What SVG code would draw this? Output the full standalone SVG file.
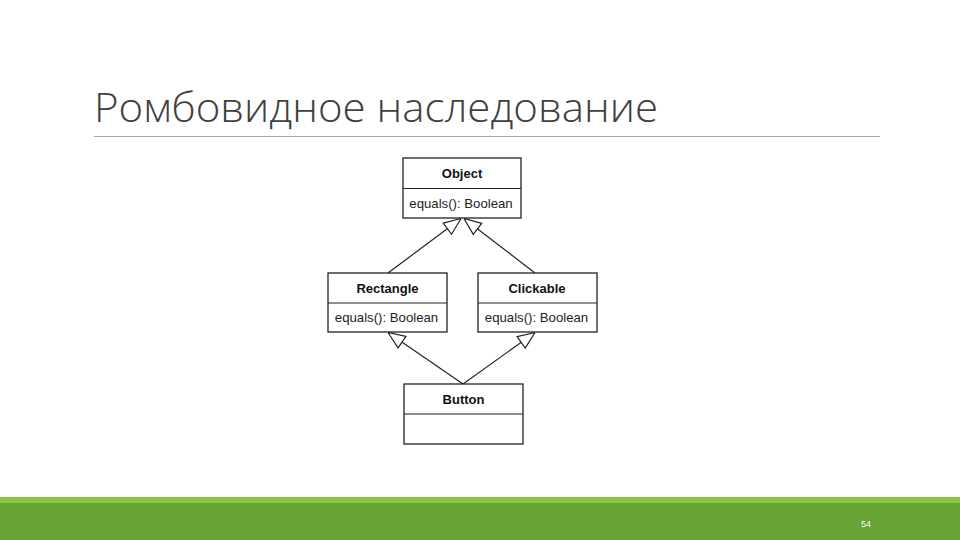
<svg xmlns="http://www.w3.org/2000/svg" width="960" height="540" viewBox="0 0 960 540">
<style>
.box{fill:#fff;stroke:#222;stroke-width:1.3}
.div{stroke:#222;stroke-width:1.2}
.name{font-family:"Liberation Sans",Arial,sans-serif;font-size:13px;font-weight:bold;fill:#111;text-anchor:middle}
.attr{font-family:"Liberation Sans",Arial,sans-serif;font-size:13.2px;fill:#222;text-anchor:middle}
.edge{stroke:#222;stroke-width:1.2;fill:none;marker-end:url(#tri)}
</style>
<defs>
<marker id="tri" viewBox="0 0 18 16" refX="18" refY="8" markerWidth="18" markerHeight="16" markerUnits="userSpaceOnUse" orient="auto">
<path d="M18,8 L1,1 L1,15 Z" fill="#fff" stroke="#222" stroke-width="1.2"/>
</marker>
</defs>
<rect width="960" height="540" fill="#fff"/>
<text x="94" y="122" font-family="'Open Sans','Noto Sans',sans-serif" font-weight="300" font-size="41" fill="#404040" textLength="564" lengthAdjust="spacingAndGlyphs">Ромбовидное наследование</text>
<line x1="94" y1="136.5" x2="880" y2="136.5" stroke="#a6a6a6" stroke-width="1"/>
<g id="connectors">
<line class="edge" x1="388" y1="273" x2="461" y2="218.5"/>
<line class="edge" x1="535" y1="273" x2="464" y2="218.5"/>
<line class="edge" x1="463" y1="384" x2="388" y2="332.5"/>
<line class="edge" x1="463" y1="384" x2="535" y2="332.5"/>
</g>
<g id="object">
<rect class="box" x="403" y="158" width="118" height="60"/>
<line class="div" x1="403" y1="188.5" x2="521" y2="188.5"/>
<text class="name" x="462" y="178">Object</text>
<text class="attr" x="461" y="207.5">equals(): Boolean</text>
</g>
<g id="rectangle">
<rect class="box" x="328" y="273" width="119" height="59"/>
<line class="div" x1="328" y1="303" x2="447" y2="303"/>
<text class="name" x="387.5" y="292.5">Rectangle</text>
<text class="attr" x="386.5" y="321.5">equals(): Boolean</text>
</g>
<g id="clickable">
<rect class="box" x="478" y="273" width="119" height="59"/>
<line class="div" x1="478" y1="303" x2="597" y2="303"/>
<text class="name" x="537" y="292.5">Clickable</text>
<text class="attr" x="536.5" y="321.5">equals(): Boolean</text>
</g>
<g id="button">
<rect class="box" x="404" y="384" width="119" height="60"/>
<line class="div" x1="404" y1="414" x2="523" y2="414"/>
<text class="name" x="463.5" y="404">Button</text>
</g>
<rect x="0" y="497" width="960" height="6" fill="#8cc63f"/>
<rect x="0" y="503" width="960" height="37" fill="#67a335"/>
<text x="866" y="527" font-family="'Liberation Sans',Arial,sans-serif" font-size="9" fill="#fff" text-anchor="middle">54</text>
</svg>
